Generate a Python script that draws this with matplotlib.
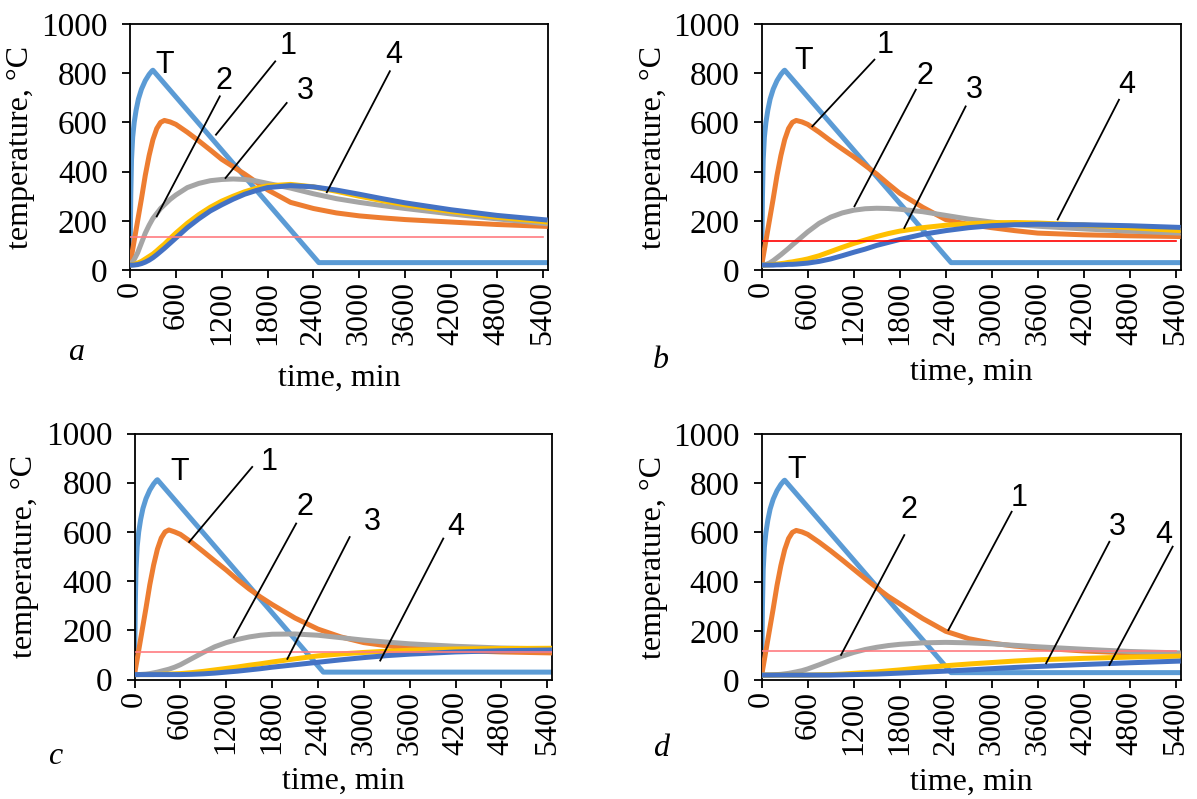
import numpy as np
import matplotlib
matplotlib.use("Agg")
import matplotlib.pyplot as plt

plt.rcParams['font.family'] = ['Liberation Serif', 'DejaVu Serif']

# time grid (min) for the section curves
t = [0, 50, 100, 150, 200, 250, 300, 350, 400, 450, 525, 600, 750, 900, 1050,
     1200, 1350, 1500, 1650, 1800, 2100, 2400, 2700, 3000, 3300, 3600, 4200,
     4800, 5465]

# fire curve T (same in all panels)
t_T = [0, 10, 20, 35, 55, 80, 110, 150, 200, 250, 290, 300, 2470, 5465]
T_fire = [20, 300, 450, 540, 600, 650, 695, 735, 770, 795, 810, 812, 30, 30]

# panel a
a1 = [20, 110, 200, 290, 385, 465, 530, 575, 600, 608, 602, 592, 560, 525, 488,
      450, 420, 390, 358, 326, 275, 250, 232, 220, 212, 205, 195, 185, 177]
a2 = [20, 40, 70, 110, 150, 182, 210, 230, 250, 265, 287, 305, 335, 352, 363,
      368, 370, 368, 362, 352, 333, 310, 290, 275, 262, 250, 228, 208, 188]
a3 = [20, 22, 28, 35, 45, 55, 65, 78, 92, 105, 128, 150, 190, 225, 255,
      280, 300, 318, 332, 342, 348, 338, 320, 300, 282, 265, 238, 215, 195]
a4 = [20, 20, 22, 26, 32, 40, 50, 62, 75, 88, 109, 130, 172, 208, 240,
      265, 288, 308, 323, 335, 343, 338, 325, 308, 290, 273, 245, 222, 203]

# panel b
b1 = [20, 110, 200, 290, 385, 465, 530, 575, 600, 608, 602, 592, 560, 525, 492,
      460, 425, 390, 350, 312, 255, 205, 185, 172, 160, 150, 143, 139, 136]
b2 = [20, 22, 28, 38, 50, 62, 75, 88, 102, 115, 135, 155, 190, 215, 232,
      243, 249, 251, 250, 247, 237, 222, 207, 195, 185, 178, 167, 158, 150]
b3 = [20, 20, 21, 22, 24, 26, 28, 31, 33, 36, 40, 45, 58, 75, 92,
      108, 122, 136, 148, 158, 172, 182, 188, 192, 193, 191, 183, 172, 160]
b4 = [20, 20, 20, 20, 21, 21, 22, 23, 23, 24, 26, 28, 35, 45, 58,
      72, 85, 100, 112, 124, 145, 160, 172, 180, 184, 186, 184, 180, 173]

# panel c
c1 = [20, 110, 200, 290, 385, 465, 530, 575, 600, 608, 600, 590, 557, 520, 482,
      445, 405, 368, 335, 305, 250, 205, 173, 150, 137, 128, 118, 112, 108]
c2 = [20, 20, 21, 22, 24, 27, 30, 34, 38, 42, 50, 60, 85, 110, 133,
      150, 163, 173, 180, 184, 185, 180, 170, 160, 152, 145, 135, 128, 124]
c3 = [20, 20, 20, 20, 20, 20, 21, 21, 22, 22, 23, 24, 28, 33, 39,
      45, 51, 58, 64, 71, 84, 96, 104, 110, 115, 119, 124, 126, 127]
c4 = [20, 20, 20, 20, 20, 20, 20, 20, 20, 20, 20, 20, 21, 23, 26,
      30, 34, 39, 44, 50, 60, 70, 80, 89, 97, 103, 112, 117, 120]

# panel d
d1 = [20, 110, 200, 290, 385, 465, 530, 575, 600, 608, 602, 592, 560, 525, 488,
      450, 412, 375, 340, 310, 250, 198, 168, 150, 138, 130, 118, 110, 104]
d2 = [20, 20, 20, 21, 22, 23, 25, 27, 30, 33, 38, 45, 62, 80, 97,
      112, 124, 133, 140, 145, 151, 153, 151, 147, 141, 135, 125, 116, 110]
d3 = [20, 20, 20, 20, 20, 20, 20, 20, 20, 20, 20, 20, 21, 22, 24,
      27, 30, 33, 37, 41, 50, 58, 65, 71, 77, 82, 88, 93, 97]
d4 = [20, 20, 20, 20, 20, 20, 20, 20, 20, 20, 20, 20, 20, 20, 21,
      22, 23, 24, 26, 28, 32, 36, 41, 46, 51, 55, 63, 70, 77]

# critical temperature lines
crit = [133, 119, 111, 119]
crit_end = [5400, 5400, 5465, 5400]
crit_col = ['#FF7C80', '#FF0000', '#FF7C80', '#FF7C80']

panels = [(a1, a2, a3, a4), (b1, b2, b3, b4), (c1, c2, c3, c4), (d1, d2, d3, d4)]
letters = ['a', 'b', 'c', 'd']

# annotations: (text, text_x, text_y, line_x0, line_y0, line_x1, line_y1)
notes = [
    [('T', 450, 835, None, None, None, None),
     ('1', 2075, 909, 1900, 848, 1125, 550),
     ('2', 1225, 767, 1175, 706, 350, 218),
     ('3', 2290, 726, 2050, 679, 1250, 374),
     ('4', 3450, 875, 3400, 808, 2575, 316)],
    [('T', 545, 848, None, None, None, None),
     ('1', 1610, 916, 1470, 855, 660, 584),
     ('2', 2130, 787, 2010, 733, 1210, 259),
     ('3', 2780, 730, 2660, 665, 1860, 171),
     ('4', 4760, 753, 4660, 692, 3860, 205)],
    [('T', 590, 844, None, None, None, None),
     ('1', 1765, 885, 1540, 864, 715, 559),
     ('2', 2225, 701, 2115, 634, 1300, 172),
     ('3', 3115, 640, 2815, 579, 2000, 84),
     ('4', 4205, 620, 4040, 573, 3215, 77)],
    [('T', 450, 854, None, None, None, None),
     ('2', 1920, 691, 1860, 589, 1035, 102),
     ('1', 3360, 738, 3260, 684, 2435, 203),
     ('3', 4635, 623, 4535, 562, 3710, 68),
     ('4', 5250, 589, 5360, 542, 4535, 61)],
]

W, H = 1197, 799
fig = plt.figure(figsize=(W / 100, H / 100), dpi=100)
boxes = [[130, 24, 417.7, 246], [761.7, 24, 419, 246],
         [134.5, 433.5, 417.7, 246], [761.7, 434, 419, 246]]
letter_pos = [(76, 352), (661, 360), (55, 757), (661, 748)]
xlab_y = [-0.44, -0.415, -0.415, -0.415]
ylab_x = [-0.262, -0.258, -0.263, -0.258]

colors = ['#ED7D31', '#A5A5A5', '#FFC000', '#4472C4']
serif = 'Liberation Serif'

for i in range(4):
    x0, y0, w, h = boxes[i]
    ax = fig.add_axes([x0 / W, 1 - (y0 + h) / H, w / W, h / H])
    ax.plot(t_T, T_fire, color='#5B9BD5', lw=3.6, solid_joinstyle='round', zorder=2)
    for s, c in zip(panels[i], colors):
        ax.plot(t, s, color=c, lw=3.6, solid_capstyle='butt', zorder=3)
    ax.plot([0, crit_end[i]], [crit[i], crit[i]], color=crit_col[i], lw=1.2, zorder=4)

    for txt, tx, ty, lx0, ly0, lx1, ly1 in notes[i]:
        ax.text(tx, ty, txt, ha='center', va='center', fontsize=22,
                family=['Liberation Sans', 'DejaVu Sans'], zorder=6)
        if lx0 is not None:
            ax.plot([lx0, lx1], [ly0, ly1], color='black', lw=1.3, zorder=5)

    ax.set_xlim(0, 5465)
    ax.set_ylim(0, 1000)
    ax.set_xticks(np.arange(0, 5401, 600))
    ax.set_yticks(np.arange(0, 1001, 200))
    ax.tick_params(axis='x', labelrotation=90, direction='out', length=6,
                   width=1.3, pad=2, labelsize=23, labelfontfamily=serif)
    ax.tick_params(axis='y', direction='out', length=6, width=1.3, pad=10,
                   labelsize=24, labelfontfamily=serif)
    for sp in ax.spines.values():
        sp.set_linewidth(1.3)
        sp.set_color('black')
    ax.set_xlabel('time, min', fontsize=23, family=serif)
    ax.xaxis.set_label_coords(0.5, xlab_y[i])
    ax.xaxis.label.set_va('center')
    ax.set_ylabel('temperature, \u00b0C', fontsize=23, family=serif)
    ax.yaxis.set_label_coords(ylab_x[i], 0.5)
    ax.yaxis.label.set_va('center')
    fig.text(letter_pos[i][0] / W, 1 - letter_pos[i][1] / H, letters[i],
             fontsize=23, style='italic', family=serif, ha='center', va='center')

fig.savefig('out.png', dpi=100)
